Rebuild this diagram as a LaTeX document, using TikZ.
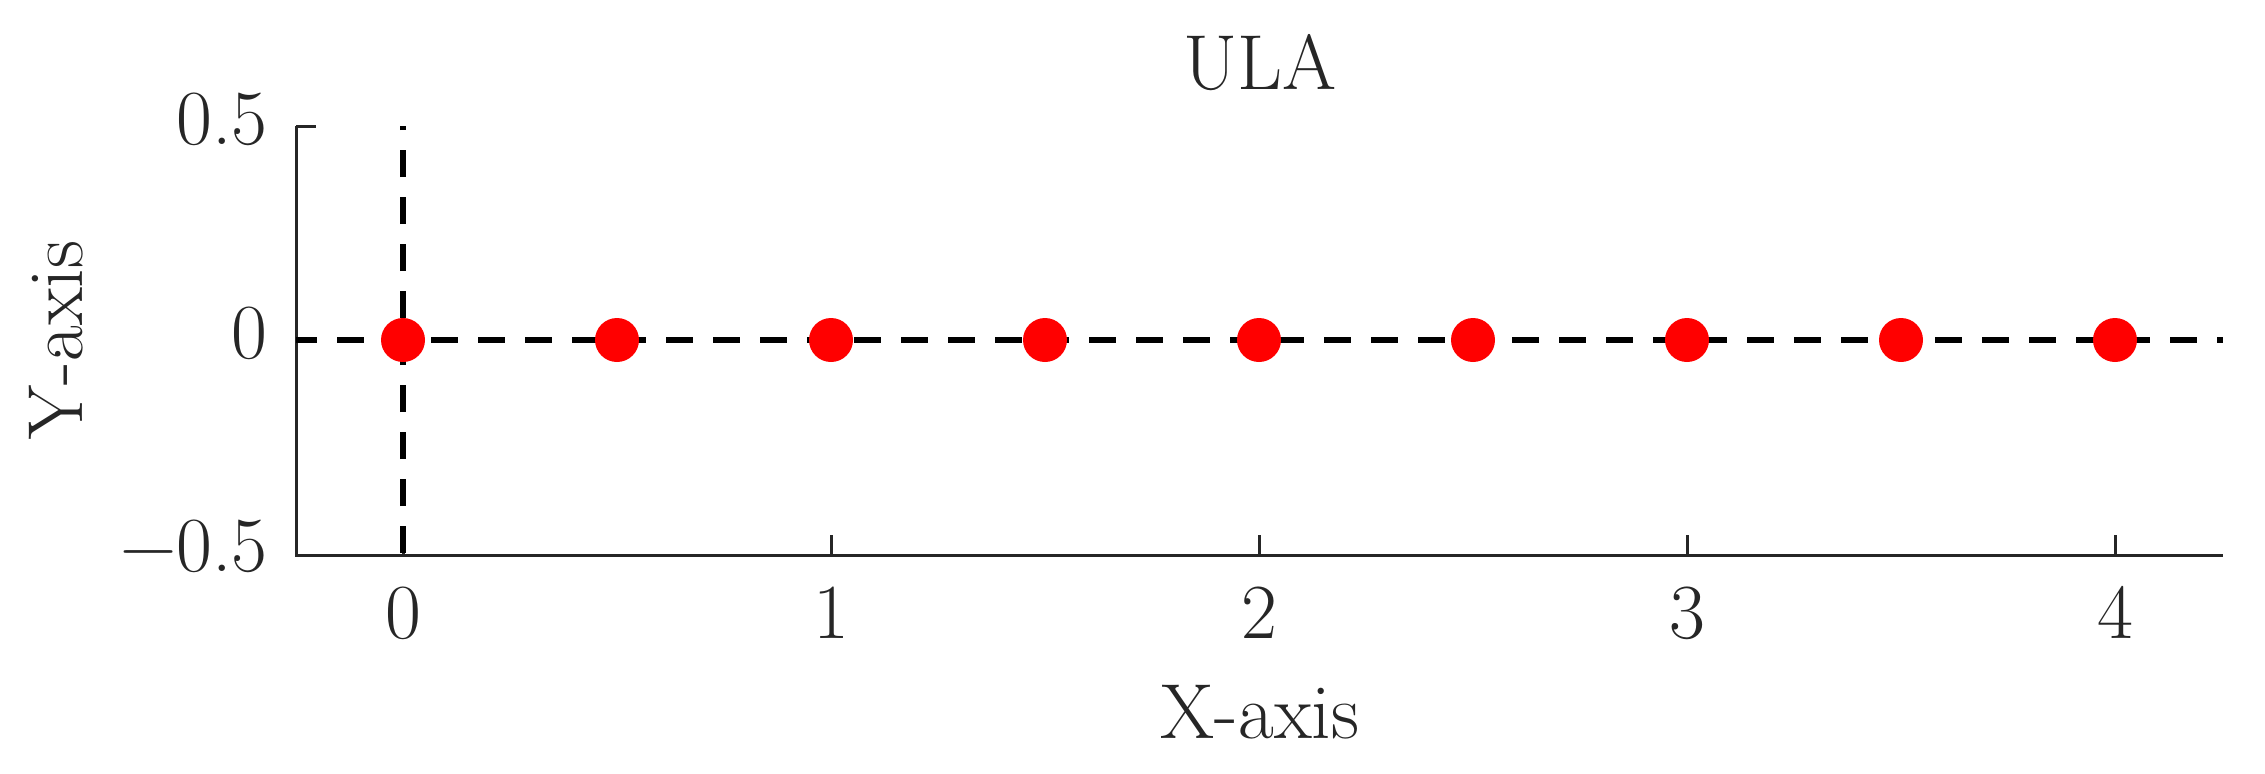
\documentclass[tikz,border=0pt]{standalone}
\usepackage{fontspec}
\definecolor{axgray}{gray}{0.15}
\tikzset{
  axisline/.style={draw=axgray, line width=0.9pt},
  ticklab/.style={text=axgray, font=\fontsize{23.4}{28}\selectfont, inner sep=0pt},
  refline/.style={black, line width=1.8pt, dash pattern=on 8.1pt off 6pt},
  elem/.style={circle, fill=red, minimum size=13.2pt, inner sep=0pt}
}
\begin{document}
\begin{tikzpicture}[x=0.3pt,y=-0.3pt]
\useasboundingbox (0,0) rectangle (2265,773);
% axes
\coordinate (tl) at (296,126);
\coordinate (bl) at (296,555);
\coordinate (br) at (2223,555);
\draw[axisline] (tl) -- (bl) -- (br);
\foreach \k in {0,...,4} \draw[axisline] (403+428*\k,555) -- ++(0,-20);
\foreach \y in {126,340,555} \draw[axisline] (296,\y) -- ++(20,0);
% reference dashed lines
\coordinate (hl) at (296,340);
\coordinate (hr) at (2223,340);
\coordinate (vb) at (403,555);
\coordinate (vt) at (403,126);
\draw[refline, dash phase=1.8pt] (hl) -- (hr);
\draw[refline, dash phase=13.5pt] (vb) -- (vt);
% array elements
\foreach \i in {0,...,8} \node[elem] (e\i) at (403+214*\i,340) {};
% tick labels
\foreach \k in {0,...,4} \node[ticklab, anchor=base] (xl\k) at (403+428*\k,638) {\k};
\node[ticklab, anchor=base east] (yl1) at (268,144) {0.5};
\node[ticklab, anchor=base east] (yl2) at (268,358) {0};
\node[ticklab, anchor=base east] (yl3) at (268,571) {−0.5};
% titles
\node[ticklab, anchor=base] (title) at (1260,89) {ULA};
\node[ticklab, anchor=base] (xlab) at (1260,738) {X-axis};
\node[ticklab, anchor=base, rotate=90] (ylab) at (82,340) {Y-axis};
\end{tikzpicture}
\end{document}
